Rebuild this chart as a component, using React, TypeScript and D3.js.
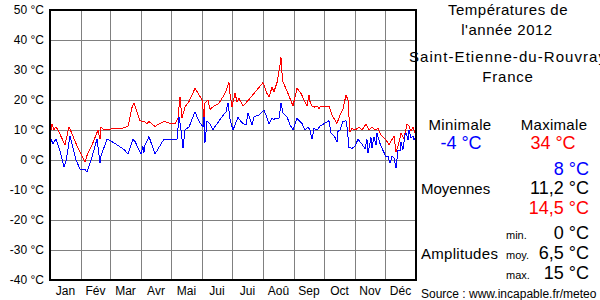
import React from "react";
import * as d3 from "d3";

const monthLabels = ["Jan", "Fév", "Mar", "Avr", "Mai", "Jui", "Jui", "Aoû", "Sep", "Oct", "Nov", "Déc"];
const monthStarts = [0, 31, 60, 91, 121, 152, 182, 213, 244, 274, 305, 335, 366];
const yTicks = [50, 40, 30, 20, 10, 0, -10, -20, -30, -40];

// day-of-year index, max temperature
const maxDays = [0,2,4,6,8,15,19,21,28,35,37,42,48,50,51,54,58,66,72,78,82,84,86,90,94,97,99,102,105,109,114,119,125,128,130,132,135,139,145,149,152,154,155,158,160,164,169,175,179,180,182,185,187,189,193,198,204,213,217,219,222,224,227,230,231,232,233,238,243,247,251,257,259,260,262,264,267,269,271,279,282,287,290,293,296,298,299,300,302,305,309,312,316,319,322,325,328,331,336,339,344,346,348,351,354,357,359,361,363,365];
const maxVals = [7.8,12,10,11.1,10,5,11.1,9.5,3.9,-0.6,1.5,5,10,6.9,11,10,10.2,10.5,10.6,11.2,17.5,18.9,17,13.1,12.8,12.2,12.8,12,11.2,12,12.9,12.3,12,14,21.1,13.9,17.7,19.5,23.9,21.7,20,13.9,19,20,16.9,18,18.9,22.2,25.8,22,17.8,22.2,19.5,20.5,18,19.8,22.2,25.8,22.2,21,24.2,22.8,25.8,31.7,34.2,29,26.1,22.2,18,23.9,22.2,18,21.8,19.5,18,17.6,18,17.2,18,18,15,12.2,15,17,21.7,20,14.4,9.4,10.5,10,10.9,10,12,10,11,10,10.5,8.3,6.7,5,8,2.8,4.5,8.9,7.2,12,11.3,9.6,11,9.1];

// day-of-year index, min temperature
const minDays = [0,1,3,6,8,10,14,16,20,23,26,30,35,37,42,47,50,51,57,59,66,74,78,83,85,91,93,94,95,99,105,111,114,127,129,131,133,135,139,145,148,150,153,154,155,157,160,163,169,176,178,180,183,188,192,196,198,202,204,209,214,219,222,224,225,227,229,231,233,237,240,243,247,252,255,258,260,262,264,267,270,275,279,281,285,287,288,290,293,296,297,299,302,305,308,312,315,317,318,321,322,324,326,327,330,332,336,338,340,342,344,346,348,350,351,353,355,356,358,359,361,363,364,365];
const minVals = [5,6.9,5.5,7,5,3,-2.2,-0.5,8,4,0,-3,-3,-4.1,1,7,-1.1,1.3,7,6.7,5.3,3.5,2,6.9,6.2,2,4.5,2.5,5,7.8,2,5.3,7,7,14.4,10,3.9,10,11,16.1,13.6,12.4,11,14.4,5.8,13,12,10.2,13,16.1,18.9,13.6,10,14.2,12.4,11.7,15.8,11.6,14.4,15,16.7,12.2,13.9,13.3,14,13.9,13.9,18.9,15.6,14.4,11.7,10,13.9,12.2,10,11,10,6.9,10.5,10,11.3,12.3,13.1,9.1,7.5,6.1,9.5,10,12.8,13.1,11,4.2,3.9,4.6,6.9,5.3,3.7,6.8,2.2,7.5,3.9,7.8,5,8.9,5.5,3.9,1.1,1.3,-1.1,1.3,0.8,-2.8,3.3,3,6.1,3.5,8.3,9.1,6.7,10,7.3,8,6.7,7.2];

const FONT = "'Liberation Sans', Arial, sans-serif";

export default function App() {
  const x = d3.scaleLinear().domain([0, 366]).range([50, 416]);
  const y = d3.scaleLinear().domain([-40, 50]).range([280, 10]);
  const maxLine = d3.line<number>().x((_, i) => x(maxDays[i])).y((v) => y(v));
  const minLine = d3.line<number>().x((_, i) => x(minDays[i])).y((v) => y(v));
  const grid = "#808080";

  return (
    <svg width={600} height={300} style={{ position: "absolute", left: 0, top: 0, background: "#fff" }} fontFamily={FONT}>
      <rect x={0} y={0} width={600} height={300} fill="#fff" />
      {yTicks.map((t) => (
        <line key={"h" + t} x1={50} x2={416} y1={y(t)} y2={y(t)} stroke={grid} strokeWidth={1} shapeRendering="crispEdges" />
      ))}
      {monthStarts.map((m) => (
        <line key={"v" + m} x1={x(m)} x2={x(m)} y1={10} y2={280} stroke={grid} strokeWidth={1} shapeRendering="crispEdges" />
      ))}
      <path d={maxLine(maxVals) || ""} fill="none" stroke="#ff0000" strokeWidth={1} shapeRendering="crispEdges" />
      <path d={minLine(minVals) || ""} fill="none" stroke="#0000ff" strokeWidth={1} shapeRendering="crispEdges" />
      <rect x={50} y={10} width={366} height={270} fill="none" stroke="#000" strokeWidth={1.5} shapeRendering="crispEdges" />
      {yTicks.map((t) => (
        <text key={"t" + t} x={44} y={y(t) + 4} fontSize={12} textAnchor="end" fill="#000">{t + " °C"}</text>
      ))}
      {monthLabels.map((m, i) => (
        <text key={"m" + i} x={(x(monthStarts[i]) + x(monthStarts[i + 1])) / 2} y={295} fontSize={12} textAnchor="middle" fill="#000">{m}</text>
      ))}
      <g fontSize={15} textAnchor="middle" fill="#000">
        <text x={508} y={15} letterSpacing={0.5}>Températures de</text>
        <text x={507} y={35} letterSpacing={0.5}>l'année 2012</text>
        <text x={409} y={62} textAnchor="start" textLength={197} lengthAdjust="spacing">Saint-Etienne-du-Rouvray</text>
        <text x={508} y={82} letterSpacing={0.8}>France</text>
        <text x={460} y={130} letterSpacing={0.4}>Minimale</text>
        <text x={554} y={130} letterSpacing={0.3}>Maximale</text>
      </g>
      <text x={461} y={149} fontSize={18} textAnchor="middle" fill="#0000ff">-4 °C</text>
      <text x={553} y={149} fontSize={18} textAnchor="middle" fill="#ff0000">34 °C</text>
      <g fontSize={18} textAnchor="end">
        <text x={589} y={175} fill="#0000ff">8 °C</text>
        <text x={589} y={194} fill="#000">11,2 °C</text>
        <text x={589} y={214} fill="#ff0000">14,5 °C</text>
        <text x={589} y={239} fill="#000">0 °C</text>
        <text x={589} y={259} fill="#000">6,5 °C</text>
        <text x={589} y={279} fill="#000">15 °C</text>
      </g>
      <g fontSize={15} fill="#000">
        <text x={421} y={194}>Moyennes</text>
        <text x={421} y={259} letterSpacing={0.3}>Amplitudes</text>
      </g>
      <g fontSize={11} fill="#000">
        <text x={506} y={239}>min.</text>
        <text x={506} y={259}>moy.</text>
        <text x={506} y={279}>max.</text>
      </g>
      <text x={421} y={298} fontSize={12} fill="#000">Source : www.incapable.fr/meteo</text>
    </svg>
  );
}
